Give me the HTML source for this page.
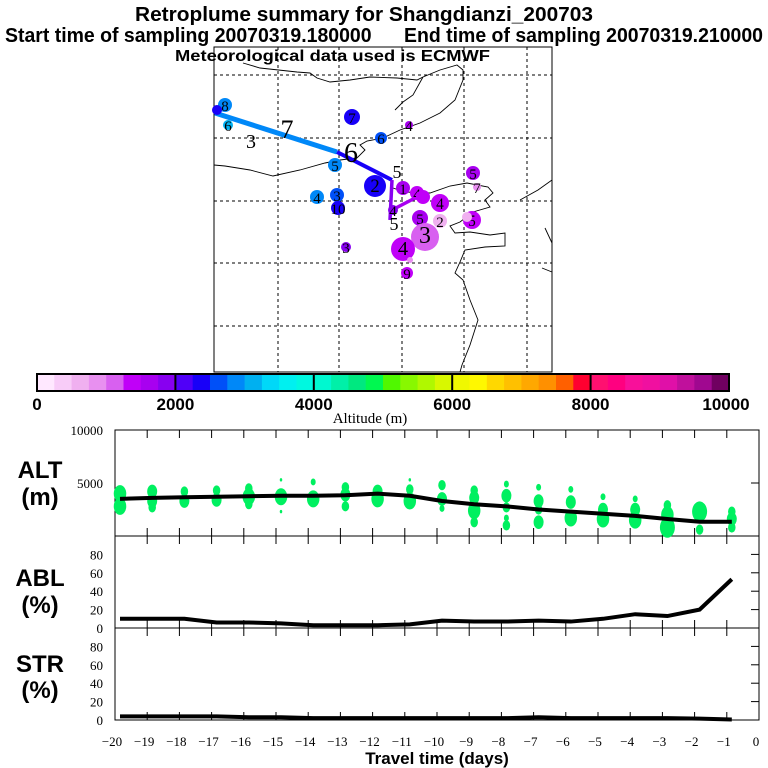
<!DOCTYPE html>
<html><head><meta charset="utf-8"><style>
html,body{margin:0;padding:0;background:#fff;width:768px;height:768px;overflow:hidden}
svg text{font-family:"Liberation Serif",serif}
.b{font-family:"Liberation Sans",sans-serif;font-weight:bold}
</style></head><body>
<svg id="s" width="768" height="768" viewBox="0 0 768 768" xmlns="http://www.w3.org/2000/svg">
<rect width="768" height="768" fill="#fff"/>
<g id="map"></g>
<g class="b" text-anchor="start" style="white-space:pre">
<text class="b" x="135" y="21" font-size="20" textLength="458" lengthAdjust="spacingAndGlyphs">Retroplume summary for Shangdianzi_200703</text>
<text class="b" x="5" y="42" font-size="20" textLength="758" lengthAdjust="spacingAndGlyphs" xml:space="preserve">Start time of sampling 20070319.180000      End time of sampling 20070319.210000</text>
<text class="b" x="175" y="61" font-size="16" textLength="315" lengthAdjust="spacingAndGlyphs">Meteorological data used is ECMWF</text>
</g>
<g id="cbar"></g>
<g id="panels"></g>
</svg>
<script>
// ---------- data ----------
const cbarColors=["#ffe8ff","#f8ccf8","#f0b0f0","#e890f0","#d860f0","#c000f8","#a800f0","#8800f0",
"#5000f8","#1800f8","#0050f8","#0088f8","#00b0f0","#00d8f8","#00f0f0","#00f8e0",
"#00f8d0","#00f0a8","#00e880","#00f850","#50f800","#88f800","#b0f800","#d8f800",
"#f0f800","#fff800","#ffd800","#ffc000","#ffa800","#ff9000","#ff6000","#ff0030",
"#ff1070","#ff0080","#f8109a","#f010a0","#e010a8","#c0109c","#a00890","#700060"];
const cbarTicks=[0,2000,4000,6000,8000,10000];
const days=[-20,-19,-18,-17,-16,-15,-14,-13,-12,-11,-10,-9,-8,-7,-6,-5,-4,-3,-2,-1];
const altMean=[3500,3600,3650,3700,3750,3800,3800,3850,4000,3800,3300,3000,2800,2500,2300,2100,1900,1600,1350,1350];
const ablPct=[10,10,10,6,6,5,3,3,3,4,8,7,7,8,7,10,15,13,20,53];
const strPct=[4,4,4,4,3,3,2,2,2,2,2,2,2,3,2,2,2,2,1.5,0.5];
const dotDays=[-20,-20,-19,-19,-19,-18,-18,-17,-17,-16,-16,-16,-15,-15,-15,-14,-14,-13,-13,-13,-12,-12,-11,-11,-11,-10,-10,-10,-9,-9,-9,-9,-8,-8,-8,-8,-8,-7,-7,-7,-7,-6,-6,-6,-5,-5,-5,-4,-4,-4,-3,-3,-3,-2,-2,-1,-1,-1];
const dotAlts=[4000,2800,4200,3300,2700,4200,3300,4300,3400,4500,3700,3000,5300,3700,2300,5100,3500,4600,3900,2800,4200,3500,5300,4400,3300,4800,3500,2600,4300,3600,2400,1300,4900,3800,2700,1700,1000,4600,3300,2500,1300,4400,3200,1700,3700,2500,1600,3500,2500,1500,2900,2000,800,2300,600,2300,1600,800];
const dotSizes=[5,5,4,4,3,3,4,3,4,3,5,3,1,5,1,2,5,3,4,3,4,5,1,3,5,3,4,2,3,4,5,3,2,4,3,2,3,2,4,3,4,2,4,5,2,4,5,2,4,5,3,5,6,6,3,3,4,3];
const yTicksAlt=[0,5000,10000];
const yTicksPct=[0,20,40,60,80];
// map plume clusters
const clX=[225,217,228,352,381,409,335,375,317,337,338,346,403,417,423,440,393,420,440,425,403,410,407,473,477,472,467];
const clY=[105,110,125,117,138,125,165,186,197,195,208,247,188,193,197,203,210,218,221,237,249,260,273,173,187,220,217];
const clR=[7,5,5,8,6,4,7,11,7,7,7,5,7,7,7,9,5,8,7,14,12,3,6,7,4,9,5];
const clC=[11,9,12,9,10,6,11,9,11,10,9,7,6,5,5,5,7,6,2,4,5,3,5,6,3,5,2];
const clL=["8","","6","7","6","4","5","2","4","3","10","3","1","4","","4","4","5","2","3","4","","9","5","7","5",""];
const NS="http://www.w3.org/2000/svg";
function mk(tag,attrs,parent){const e=document.createElementNS(NS,tag);for(const k in attrs)e.setAttribute(k,attrs[k]);parent.appendChild(e);return e;}

// ---------- map ----------
const map=document.getElementById('map');
const mx0=214,mx1=552,my0=47,my1=372;
let fr=mk('rect',{x:mx0,y:my0,width:mx1-mx0,height:my1-my0,fill:'#fff',stroke:'#000','stroke-width':1},map);


[278,339,402,464,527].forEach(x=>{let l=mk('line',{x1:x,y1:my0,x2:x,y2:my1,stroke:'#000','stroke-dasharray':'3,3','stroke-width':1},map);

});
[75,138,201,263,326].forEach(y=>{let l=mk('line',{x1:mx0,y1:y,x2:mx1,y2:y,stroke:'#000','stroke-dasharray':'3,3','stroke-width':1},map);

});
const coasts=["M243,63 L260,68 L297,72 L310,73 L317,78 L330,82 L350,80 L370,77 L397,78 L417,80 L423,77 L440,70 L457,65 L463,70 L463,80 L455,100 L440,113 L420,123 L400,130 L383,138 L367,141 L360,145 L365,150 L357,158 L340,160 L325,163 L300,170 L273,176 L250,170 L225,166 L214,165",
"M423,77 L413,95 L403,102 L395,110",
"M390,187 L405,192 L430,193 L450,186 L467,183 L488,187 L493,193 L485,200 L490,207 L473,212 L460,222 L450,226 L455,233 L470,232 L490,235 L505,233 L505,246 L485,247 L465,250 L460,262 L455,273 L463,280 L470,300 L478,320 L470,345 L462,365 L460,372",
"M520,200 L538,190 L552,180","M545,228 L552,243","M542,268 L552,272"];
coasts.forEach(d=>{let p=mk('path',{d:d,fill:'none',stroke:'#000','stroke-width':0.9},map);

});
const tracks=[["M215,113 L337,152",'#0088f8',5],["M337,152 L392,180",'#1800f8',4],["M392,180 L390,220",'#8800f0',3.5],["M392,210 L417,197",'#a800f0',3.5]];
tracks.forEach(t=>{let p=mk('path',{d:t[0],stroke:t[1],'stroke-width':t[2],fill:'none'},map);

});
for(let i=0;i<clX.length;i++){
  let c=mk('circle',{cx:clX[i],cy:clY[i],r:clR[i],fill:cbarColors[clC[i]]},map);
  
  
  if(clL[i]){let t=mk('text',{x:clX[i],y:clY[i]+6,'font-size':Math.max(15,clR[i]*1.7),'text-anchor':'middle',fill:'#000'},map);t.textContent=clL[i];
  
  }
}
[[251,148,'3',20],[287,138,'7',26],[351,162,'6',28],[397,178,'5',18],[394,230,'5',18]].forEach(a=>{let t=mk('text',{x:a[0],y:a[1],'font-size':a[3],'text-anchor':'middle'},map);t.textContent=a[2];

});

// ---------- colorbar ----------
const cb=document.getElementById('cbar');
const cx0=37,cx1=729,cy0=374,cy1=391;
const cw=(cx1-cx0)/cbarColors.length;
cbarColors.forEach((c,i)=>{let r=mk('rect',{x:cx0+i*cw,y:cy0,width:cw+0.5,height:cy1-cy0,fill:c},cb);

});
let cbf=mk('rect',{x:cx0,y:cy0,width:cx1-cx0,height:cy1-cy0,fill:'none',stroke:'#000','stroke-width':2},cb);


cbarTicks.forEach(v=>{const x=cx0+(cx1-cx0)*v/10000;
  let l=mk('line',{x1:x,y1:cy0,x2:x,y2:cy1,stroke:'#000','stroke-width':2},cb);
  
  
  let t=mk('text',{x:Math.min(Math.max(x,cx0-3),cx1-3),y:410,'font-size':17,'text-anchor':'middle',class:'b'},cb);t.textContent=v;
  
  });
let cbt=mk('text',{x:370,y:423,'font-size':15,'text-anchor':'middle'},cb);cbt.textContent='Altitude (m)';



// ---------- time-series panels ----------
const P=document.getElementById('panels');
const X0=115,X1=759;
const xs=d=>X0+(d+20)*(X1-X0)/20;
const altY=v=>536-v*106/10000;
const ablY=v=>628-v*92/100;
const strY=v=>720-v*92/100;
function frame(top,bot,name){let r=mk('rect',{x:X0,y:top,width:X1-X0,height:bot-top,fill:'none',stroke:'#000','stroke-width':1},P);


for(let d=-19;d<=-1;d++){mk('line',{x1:xs(d),y1:top,x2:xs(d),y2:top+8,stroke:'#000'},P);mk('line',{x1:xs(d),y1:bot-8,x2:xs(d),y2:bot,stroke:'#000'},P);}}
frame(430,536,'alt-panel-frame');frame(536,628,'abl-panel-frame');frame(628,720,'str-panel-frame');
function ylab(vals,f,name){vals.forEach(v=>{const y=f(v);
  let t=mk('text',{x:103,y:y+5,'font-size':13,'text-anchor':'end'},P);t.textContent=v;
  
  
  if(v>0&&v<100)mk('line',{x1:X1-8,y1:y,x2:X1,y2:y,stroke:'#000'},P);});}
ylab(yTicksAlt.filter(v=>v>0),altY,'alt-y-tick-label');ylab(yTicksPct,ablY,'abl-y-tick-label');ylab(yTicksPct,strY,'str-y-tick-label');
mk('line',{x1:X1-8,y1:altY(5000),x2:X1,y2:altY(5000),stroke:'#000'},P);
[["ALT",478,"alt-panel-label"],["(m)",505,"alt-unit-label"],["ABL",586,"abl-panel-label"],["(%)",613,"abl-unit-label"],["STR",672,"str-panel-label"],["(%)",698,"str-unit-label"]].forEach(a=>{
  let t=mk('text',{x:40,y:a[1],'font-size':24,'text-anchor':'middle',class:'b'},P);t.textContent=a[0];
  
  });
for(let i=0;i<dotDays.length;i++){
  let e=mk('ellipse',{cx:xs(dotDays[i])+5,cy:altY(dotAlts[i]),rx:dotSizes[i]*1.25,ry:dotSizes[i]*1.7,fill:'#00f060'},P);
  
  }
function line(vals,f,name,w){const pts=days.map((d,i)=>xs(d)+5+','+f(vals[i])).join(' ');
  let p=mk('polyline',{points:pts,fill:'none',stroke:'#000','stroke-width':w},P);
  
  }
line(altMean,altY,'mean-altitude-line',4);line(ablPct,ablY,'abl-fraction-line',4);line(strPct,strY,'stratosphere-fraction-line',4);
for(let d=-20;d<=0;d++){let t=mk('text',{x:xs(d)-3,y:746,'font-size':13,'text-anchor':'middle'},P);t.textContent=d===0?'0':'\u2212'+(-d);
  
  }
let xt=mk('text',{x:437,y:764,'font-size':17,'text-anchor':'middle',class:'b'},P);xt.textContent='Travel time (days)';


</script>
</body></html>
